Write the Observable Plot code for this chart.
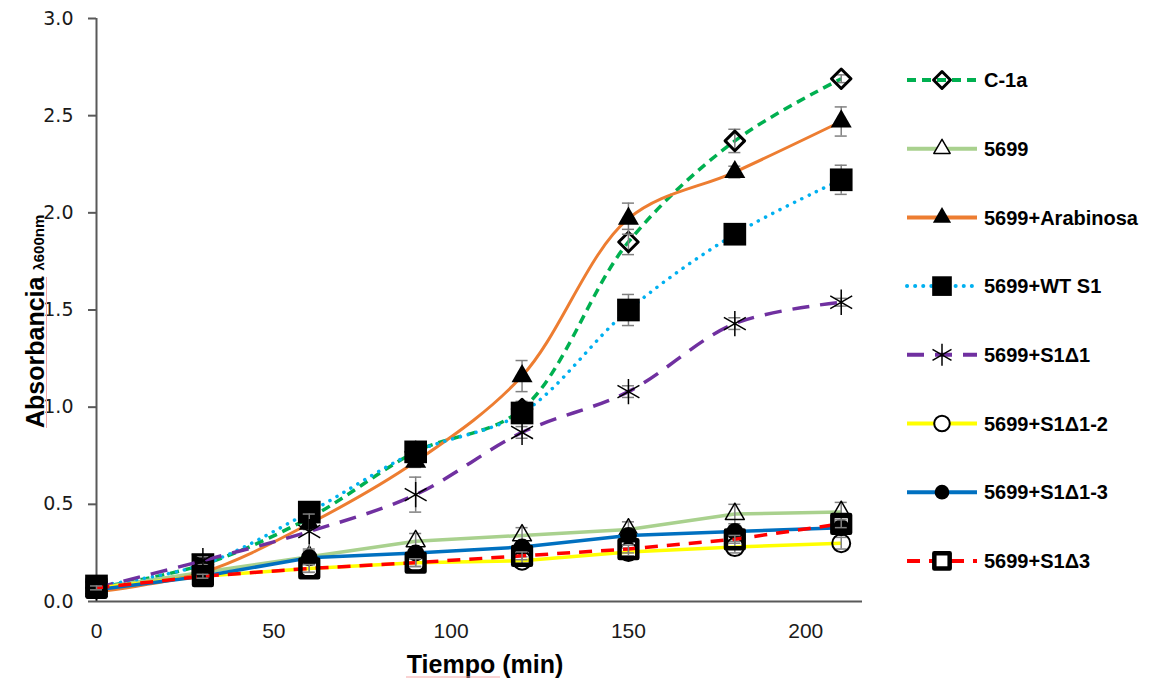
<!DOCTYPE html>
<html><head><meta charset="utf-8">
<script src="https://cdn.jsdelivr.net/npm/d3@7"></script>
<script src="https://cdn.jsdelivr.net/npm/@observablehq/plot@0.6"></script>
<style>body{margin:0;background:#fff;} svg{display:block}</style>
</head><body><div id="chart"></div>
<script>
// ---- data ----
const times = [0, 30, 60, 90, 120, 150, 180, 210];
const seriesNames = ["C-1a", "5699", "5699+Arabinosa", "5699+WT S1", "5699+S1Δ1", "5699+S1Δ1-2", "5699+S1Δ1-3", "5699+S1Δ3"];
const valC1a  = [0.07, 0.19, 0.43, 0.77, 0.99, 1.85, 2.37, 2.69];
const errC1a  = [0.01, 0.02, 0.03, 0.03, 0.04, 0.065, 0.06, 0.02];
const val5699 = [0.07, 0.15, 0.23, 0.31, 0.34, 0.37, 0.45, 0.46];
const err5699 = [0.01, 0.02, 0.03, 0.04, 0.04, 0.04, 0.05, 0.05];
const valArab = [0.05, 0.15, 0.40, 0.72, 1.16, 1.97, 2.21, 2.47];
const errArab = [0.01, 0.02, 0.03, 0.03, 0.08, 0.08, 0.03, 0.075];
const valWT   = [0.08, 0.19, 0.46, 0.77, 0.97, 1.50, 1.89, 2.17];
const errWT   = [0.01, 0.02, 0.03, 0.03, 0.03, 0.08, 0.04, 0.075];
const valD1   = [0.07, 0.21, 0.36, 0.55, 0.87, 1.08, 1.43, 1.54];
const errD1   = [0.01, 0.02, 0.09, 0.09, 0.03, 0.03, 0.03, 0.02];
const valD12  = [0.07, 0.13, 0.17, 0.20, 0.21, 0.255, 0.28, 0.30];
const errD12  = [0.01, 0.01, 0.02, 0.02, 0.02, 0.02, 0.03, 0.03];
const valD13  = [0.06, 0.13, 0.225, 0.25, 0.28, 0.34, 0.36, 0.38];
const errD13  = [0.01, 0.01, 0.02, 0.02, 0.02, 0.02, 0.02, 0.02];
const valD3   = [0.07, 0.13, 0.17, 0.20, 0.235, 0.27, 0.32, 0.40];
const errD3   = [0.01, 0.01, 0.02, 0.02, 0.02, 0.02, 0.02, 0.02];
const xTicks = [0, 50, 100, 150, 200];
const yTicks = [0, 0.5, 1.0, 1.5, 2.0, 2.5, 3.0];
const xTitle = "Tiempo (min)";
const yTitleMain = "Absorbancia";
const yTitleSub = "λ600nm";

const values = [valC1a, val5699, valArab, valWT, valD1, valD12, valD13, valD3];
const errors = [errC1a, err5699, errArab, errWT, errD1, errD12, errD13, errD3];

// ---- styles ----
const styles = [
  {color: "#00B050", width: 3.5, dash: "9,6", curve: "catmull-rom", symbol: "diamond2", r: 8.8, fill: "none", lfill: "none", stroke: "black", sw: 3},
  {color: "#A9D18E", width: 3.5, dash: null, curve: "linear", symbol: "triangle2", r: 9, fill: "none", lfill: "white", stroke: "black", sw: 1.5},
  {color: "#ED7D31", width: 3, dash: null, curve: "catmull-rom", symbol: "triangle", r: 7.8, fill: "black", lfill: "black", stroke: "none", sw: 0},
  {color: "#00B0F0", width: 3.5, dash: "0.1,8", cap: "round", curve: "catmull-rom", symbol: "square", r: 12.8, fill: "black", lfill: "black", stroke: "none", sw: 0},
  {color: "#7030A0", width: 3.5, dash: "17,11", curve: "catmull-rom", symbol: "asterisk", r: 12, fill: "none", lfill: "none", stroke: "black", sw: 1.5},
  {color: "#FFFF00", width: 3.5, dash: null, curve: "linear", symbol: "circle", r: 9, fill: "none", lfill: "white", stroke: "black", sw: 2},
  {color: "#0070C0", width: 3.5, dash: null, curve: "linear", symbol: "circle", r: 8.5, fill: "black", lfill: "black", stroke: "none", sw: 0},
  {color: "#FF0000", width: 3.5, dash: "13,9", curve: "linear", symbol: "square", r: 10, fill: "none", lfill: "white", stroke: "black", sw: 4.5}
];

const rows = seriesNames.map((name, i) => times.map((t, j) => ({series: name, t, v: values[i][j], e: errors[i][j]})));

const marks = [
  Plot.ruleY([0], {stroke: "#595959", strokeWidth: 2}),
  Plot.ruleX([0], {stroke: "#595959", strokeWidth: 2}),
  Plot.axisY({ticks: yTicks, tickSize: 8, tickPadding: 15, tickFormat: d3.format(".1f"), stroke: "#595959", strokeWidth: 2,
    fill: "#1a1a1a", fontSize: 19, fontFamily: "DejaVu Sans", label: null}),
  Plot.axisX({ticks: xTicks, tickSize: 0, tickPadding: 22, fill: "#1a1a1a", fontSize: 21, fontFamily: "Liberation Sans, Arial", label: null})
];

rows.forEach((data, i) => {
  const s = styles[i];
  marks.push(Plot.line(data, {x: "t", y: "v", stroke: s.color, strokeWidth: s.width, strokeDasharray: s.dash || undefined,
    strokeLinecap: s.cap || "butt", curve: s.curve}));
  marks.push(Plot.ruleX(data, {x: "t", y1: d => d.v - d.e, y2: d => d.v + d.e, stroke: "#808080", strokeWidth: 1.5}));
  marks.push(Plot.ruleY(data, {y: d => d.v + d.e, x1: d => d.t - 1.7, x2: d => d.t + 1.7, stroke: "#808080", strokeWidth: 1.5}));
  marks.push(Plot.ruleY(data, {y: d => d.v - d.e, x1: d => d.t - 1.7, x2: d => d.t + 1.7, stroke: "#808080", strokeWidth: 1.5}));
  marks.push(Plot.dot(data, {x: "t", y: "v", symbol: s.symbol, r: s.r, fill: s.fill, stroke: s.stroke, strokeWidth: s.sw, strokeLinejoin: "round"}));
});

const chart = Plot.plot({
  width: 1152, height: 682,
  marginLeft: 96, marginRight: 290, marginTop: 18, marginBottom: 81,
  x: {domain: [0, 216]},
  y: {domain: [0, 3]},
  style: {background: "white", overflow: "visible"},
  marks
});
document.getElementById("chart").appendChild(chart);

const svg = d3.select(chart);
// axis titles
const yt = svg.append("text").attr("transform", "translate(44,428) rotate(-90)").attr("text-anchor", "start")
  .attr("font-family", "Liberation Sans, Arial").attr("font-weight", "bold").attr("fill", "black");
yt.append("tspan").attr("font-size", 25).text(yTitleMain);
yt.append("tspan").attr("font-size", 15).attr("dx", 6).text(yTitleSub);
svg.append("line").attr("x1", 46.5).attr("x2", 46.5).attr("y1", 428).attr("y2", 277).attr("stroke", "#f4a6a6").attr("stroke-width", 1);
svg.append("text").attr("x", 485).attr("y", 673).attr("text-anchor", "middle")
  .attr("font-family", "Liberation Sans, Arial").attr("font-weight", "bold").attr("font-size", 25).attr("fill", "black").text(xTitle);
svg.append("line").attr("x1", 406).attr("x2", 500).attr("y1", 677).attr("y2", 677).attr("stroke", "#f4a6a6").attr("stroke-width", 1);

// legend
const symMap = {diamond2: d3.symbolDiamond2, triangle2: d3.symbolTriangle2, triangle: d3.symbolTriangle, square: d3.symbolSquare,
  asterisk: d3.symbolAsterisk, circle: d3.symbolCircle};
const lg = svg.append("g");
seriesNames.forEach((name, i) => {
  const s = styles[i];
  const y = 80 + i * 68.7;
  lg.append("line").attr("x1", 907).attr("x2", 977).attr("y1", y).attr("y2", y)
    .attr("stroke", s.color).attr("stroke-width", 4).attr("stroke-dasharray", s.dash)
    .attr("stroke-linecap", s.cap || "butt");
  lg.append("path").attr("d", d3.symbol(symMap[s.symbol], Math.PI * s.r * s.r * 0.75)())
    .attr("transform", `translate(942,${y})`).attr("fill", s.lfill).attr("stroke", s.stroke)
    .attr("stroke-width", s.sw).attr("stroke-linejoin", "round");
  lg.append("text").attr("x", 984).attr("y", y).attr("dy", "0.36em").attr("text-anchor", "start")
    .attr("font-family", "Liberation Sans, Arial").attr("font-weight", "bold").attr("font-size", 20).attr("fill", "black").text(name);
});
</script></body></html>
